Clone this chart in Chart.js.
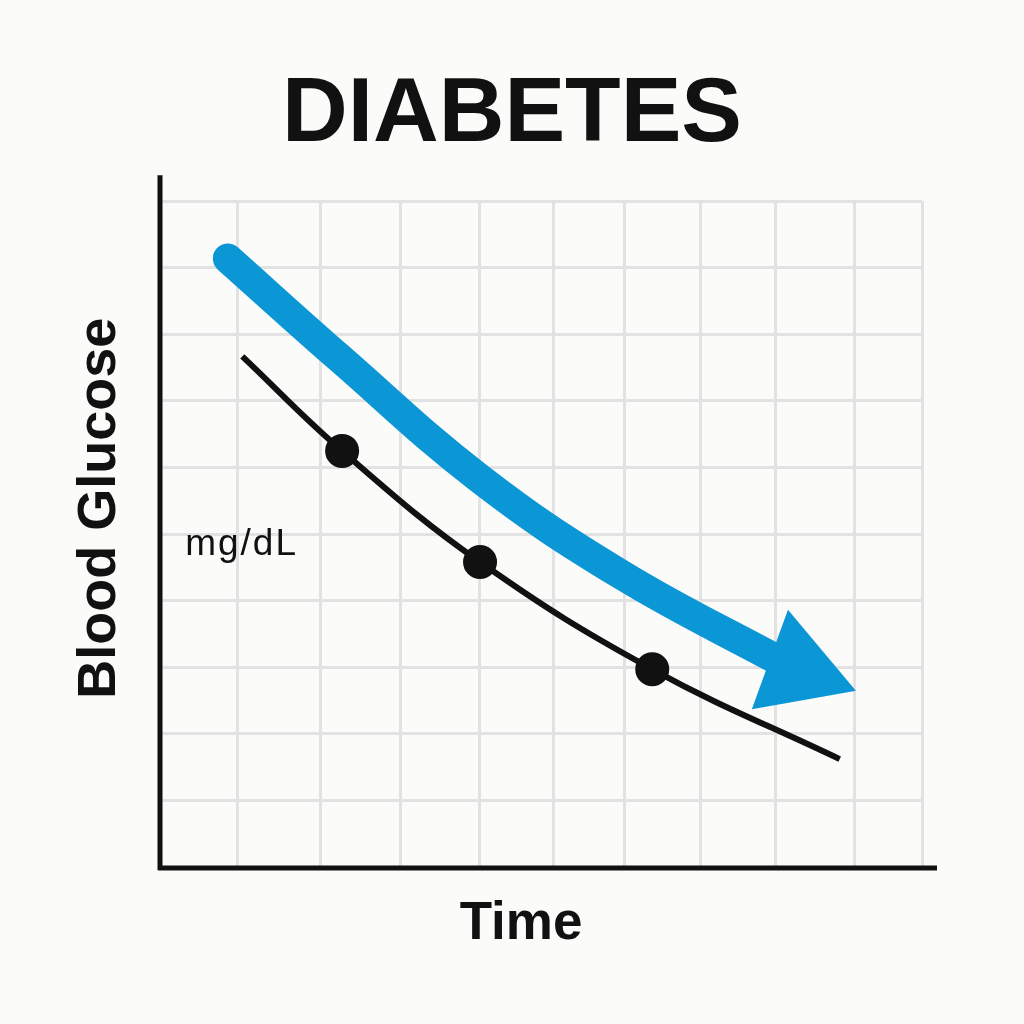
<!DOCTYPE html>
<html>
<head>
<meta charset="utf-8">
<title>Diabetes</title>
<script src="https://cdn.jsdelivr.net/npm/chart.js@4"></script>
<style>
  body { margin: 0; background: #fbfbf9; }
  #wrap { width: 1024px; height: 1024px; }
</style>
</head>
<body>
<div id="wrap"><canvas id="myChart"></canvas></div>
<script>
/*chart values*/
const glucoseX = [1.08, 2.39, 4.20, 6.46, 8.92];
const glucoseY = [7.67, 6.25, 4.58, 2.97, 1.62];
const dotSize  = [0, 16, 16, 16, 0];

const trendX = [0.89, 2.36, 4.20, 6.04, 8.04, 8.27];
const trendY = [9.14, 7.64, 5.83, 4.40, 3.15, 3.03];
const headX = [8.38];
const headY = [2.96];

const xGrid = [0, 1.02, 2.11, 3.16, 4.19, 5.16, 6.09, 7.09, 8.08, 9.11, 10];

const unitLabel = { text: 'mg/dL', x: 0.33, y: 4.69 };

const font = "'Liberation Sans', Arial, sans-serif";
const ink = '#111111';
const blue = '#0b96d6';

const pairs = (xs, ys) => xs.map((x, i) => ({ x: x, y: ys[i] }));

/*axis lines and loose text*/
const extras = {
  id: 'extras',
  afterDraw(chart) {
    const { ctx, chartArea: a, scales } = chart;
    ctx.save();
    ctx.strokeStyle = ink;
    ctx.lineWidth = 5;
    ctx.beginPath();
    ctx.moveTo(a.left, a.top - 26);
    ctx.lineTo(a.left, a.bottom + 3);
    ctx.moveTo(a.left - 2, a.bottom + 1);
    ctx.lineTo(a.right + 15, a.bottom + 1);
    ctx.stroke();

    ctx.fillStyle = ink;
    ctx.font = '37px ' + font;
    ctx.letterSpacing = '2px';
    ctx.textAlign = 'left';
    ctx.textBaseline = 'alphabetic';
    ctx.fillText(unitLabel.text, scales.x.getPixelForValue(unitLabel.x), scales.y.getPixelForValue(unitLabel.y));
    ctx.letterSpacing = '0px';

    ctx.font = 'bold 53px ' + font;
    ctx.textAlign = 'center';
    ctx.textBaseline = 'middle';
    ctx.fillText('Time', a.left + 361, a.bottom + 57);

    ctx.translate(a.left - 60, a.top + 307);
    ctx.rotate(-Math.PI / 2);
    ctx.font = 'bold 54px ' + font;
    ctx.fillText('Blood Glucose', 0, 0);
    ctx.restore();
  }
};

/*build the chart*/
const config = {
  type: 'line',
  data: {
    datasets: [{
      label: 'Blood glucose',
      data: pairs(glucoseX, glucoseY),
      borderColor: ink,
      borderWidth: 6,
      tension: 0.4,
      pointRadius: dotSize,
      pointBackgroundColor: ink,
      pointBorderColor: ink,
      pointBorderWidth: 2
    }, {
      label: 'Trend',
      data: pairs(trendX, trendY),
      borderColor: blue,
      borderWidth: 30,
      borderCapStyle: 'round',
      borderJoinStyle: 'round',
      tension: 0.4,
      pointRadius: 0
    }, {
      label: 'Arrow head',
      data: pairs(headX, headY),
      showLine: false,
      pointStyle: 'triangle',
      pointRadius: 58,
      rotation: 110,
      pointBackgroundColor: blue,
      pointBorderColor: blue,
      pointBorderWidth: 3
    }]
  },
  options: {
    responsive: true,
    maintainAspectRatio: false,
    animation: false,
    events: [],
    layout: { padding: { left: 0, right: 0, top: 0, bottom: 157 } },
    plugins: {
      legend: { display: false },
      tooltip: { enabled: false },
      title: {
        display: true,
        text: 'DIABETES',
        color: ink,
        font: { family: font, size: 91, weight: 'bold' },
        padding: { top: 61, bottom: 31 }
      }
    },
    scales: {
      x: {
        type: 'linear',
        min: 0,
        max: 10,
        afterBuildTicks: s => { s.ticks = xGrid.map(v => ({ value: v })); },
        ticks: { display: false },
        grid: { color: '#e2e2e2', lineWidth: 3, drawTicks: false },
        border: { display: false }
      },
      y: {
        min: 0,
        max: 10,
        afterFit: s => { s.width = 160; },
        ticks: { display: false, stepSize: 1 },
        grid: { color: '#e2e2e2', lineWidth: 3, drawTicks: false },
        border: { display: false }
      },
      yRight: {
        position: 'right',
        display: true,
        min: 0,
        max: 10,
        afterFit: s => { s.width = 102; },
        ticks: { display: false },
        grid: { display: false, drawTicks: false },
        border: { display: false }
      }
    }
  },
  plugins: [extras]
};

var myChart = new Chart(document.getElementById('myChart'), config);
</script>
</body>
</html>
